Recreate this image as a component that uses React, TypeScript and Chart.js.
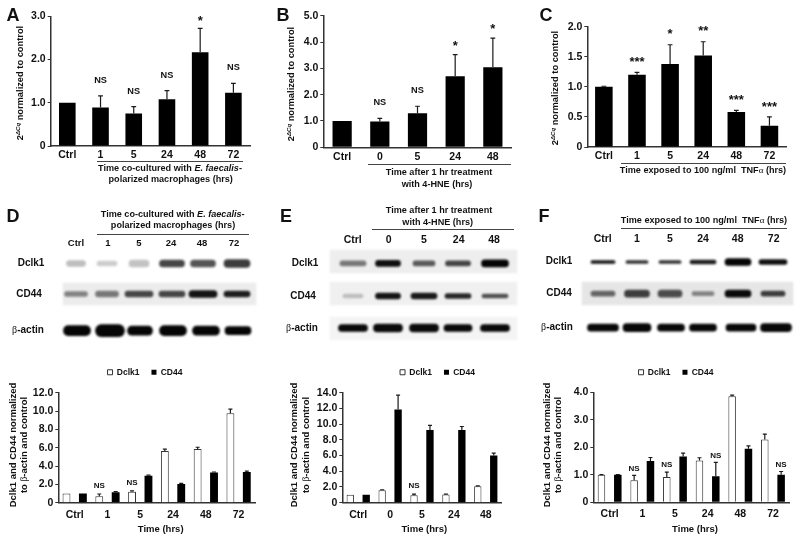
import React, { useEffect, useRef } from "react";
import { Chart, registerables } from "chart.js";

Chart.register(...registerables);

const FONT = "'Liberation Sans', Arial, sans-serif";
const INK = "#111";

// ---- qPCR panels ----
const catsA = ["Ctrl", "1", "5", "24", "48", "72"];
const valsA = [1.0, 0.89, 0.75, 1.08, 2.17, 1.23];
const errsA = [0, 0.27, 0.16, 0.2, 0.55, 0.22];
const sigA = ["", "NS", "NS", "NS", "*", "NS"];

const catsB = ["Ctrl", "0", "5", "24", "48"];
const valsB = [1.0, 0.98, 1.29, 2.7, 3.04];
const errsB = [0, 0.12, 0.27, 0.82, 1.11];
const sigB = ["", "NS", "NS", "*", "*"];

const catsC = ["Ctrl", "1", "5", "24", "48", "72"];
const valsC = [1.0, 1.2, 1.38, 1.52, 0.58, 0.355];
const errsC = [0.01, 0.04, 0.32, 0.23, 0.03, 0.145];
const sigC = ["", "***", "*", "**", "***", "***"];

// ---- densitometry panels ----
const catsD = ["Ctrl", "1", "5", "24", "48", "72"];
const dclkD = [1.0, 0.7, 1.2, 5.65, 5.85, 9.75];
const dclkErrD = [0, 0.25, 0.1, 0.2, 0.2, 0.45];
const cdD = [1.0, 1.15, 2.95, 2.05, 3.3, 3.35];
const cdErrD = [0, 0.05, 0.05, 0.05, 0.05, 0.1];
const sigDclkD = ["", "NS", "NS", "", "", ""];
const sigCdD = ["", "", "", "", "", ""];

const catsE = ["Ctrl", "0", "5", "24", "48"];
const dclkE = [1.0, 1.6, 0.95, 1.05, 2.1];
const dclkErrE = [0, 0.05, 0.15, 0.05, 0.05];
const cdE = [1.0, 11.85, 9.25, 9.25, 6.0];
const cdErrE = [0, 1.85, 0.6, 0.45, 0.3];
const sigDclkE = ["", "", "NS", "", ""];
const sigCdE = ["", "", "", "", ""];

const catsF = ["Ctrl", "1", "5", "24", "48", "72"];
const dclkF = [1.0, 0.8, 0.92, 1.52, 3.86, 2.28];
const dclkErrF = [0.01, 0.18, 0.18, 0.1, 0.04, 0.2];
const cdF = [1.0, 1.5, 1.67, 0.95, 1.95, 1.0];
const cdErrF = [0.01, 0.13, 0.12, 0.5, 0.1, 0.12];
const sigDclkF = ["", "NS", "NS", "", "", ""];
const sigCdF = ["", "", "", "NS", "", "NS"];

// ---- blots: lane centres, band lengths, thicknesses, grey levels ----
const lanesD = [76, 107, 139, 172, 203, 237];
const dclkBandD = { lanes: lanesD, y: 263.5, w: [19, 20, 20, 25, 25, 26], h: [6, 5, 7, 7, 7, 8], g: [190, 205, 195, 70, 85, 60] };
const cdBandD = { lanes: lanesD, y: 294, w: [23, 23, 28, 26, 28, 26], h: [5, 6, 6, 6, 7, 6], g: [130, 120, 70, 70, 20, 30] };
const actinBandD = { lanes: [77, 110, 140, 173, 206, 238], y: 330.7, w: [27, 29, 25, 27, 27, 26], h: [10, 12, 9, 10, 9, 8], g: [5, 5, 5, 5, 5, 5] };
const shadesD = [{ x: [63, 256], y: 294, h: 22, g: 236 }];

const lanesE = [353, 388, 424, 458, 495];
const dclkBandE = { lanes: lanesE, y: 263.3, w: [26, 25, 22, 25, 27], h: [5, 6, 5, 5, 7], g: [120, 15, 90, 70, 5] };
const cdBandE = { lanes: lanesE, y: 296, w: [20, 25, 26, 26, 26], h: [4, 6, 6, 5, 4], g: [190, 20, 25, 40, 80] };
const actinBandE = { lanes: lanesE, y: 328, w: [29, 29, 29, 28, 29], h: [7, 8, 8, 7, 7], g: [10, 10, 10, 10, 10] };
const shadesE = [
  { x: [330, 517], y: 261.5, h: 23, g: 238 },
  { x: [330, 517], y: 293.5, h: 23, g: 240 },
  { x: [330, 517], y: 328.5, h: 23, g: 244 },
];

const lanesF = [603, 637, 670, 703, 738, 773];
const dclkBandF = { lanes: lanesF, y: 262, w: [24, 22, 22, 26, 26, 28], h: [3, 3, 3, 4, 7, 5], g: [20, 50, 50, 30, 5, 15] };
const cdBandF = { lanes: lanesF, y: 293.7, w: [24, 25, 24, 22, 26, 24], h: [5, 7, 7, 4, 7, 5], g: [100, 60, 75, 130, 10, 60] };
const actinBandF = { lanes: [603, 637, 671, 703, 741, 776], y: 327.7, w: [31, 28, 27, 27, 30, 31], h: [7, 8, 7, 7, 7, 8], g: [8, 8, 8, 8, 8, 8] };
const shadesF = [{ x: [582, 793], y: 293.5, h: 23, g: 230 }];

const errorBars = {
  id: "errorBars",
  afterDatasetsDraw(chart: any) {
    const { ctx } = chart;
    const cfg = chart.options.plugins.errorBars;
    const y = chart.scales.y;
    chart.data.datasets.forEach((ds: any, di: number) => {
      const meta = chart.getDatasetMeta(di);
      meta.data.forEach((bar: any, i: number) => {
        const top = y.getPixelForValue(ds.data[i] + ds.errs[i]);
        const base = y.getPixelForValue(ds.data[i]);
        ctx.save();
        if (ds.errs[i] > 0) {
          ctx.strokeStyle = "#1a1a1a";
          ctx.lineWidth = 1.2;
          ctx.beginPath();
          ctx.moveTo(bar.x, base);
          ctx.lineTo(bar.x, top);
          ctx.moveTo(bar.x - cfg.cap, top);
          ctx.lineTo(bar.x + cfg.cap, top);
          ctx.stroke();
        }
        const label = ds.sig[i];
        if (label) {
          const star = label[0] === "*";
          ctx.fillStyle = INK;
          ctx.textAlign = "center";
          ctx.textBaseline = "middle";
          ctx.font = `bold ${star ? cfg.starSize : cfg.nsSize}px ${FONT}`;
          ctx.fillText(label, bar.x, top - (star ? cfg.starGap : cfg.nsGap));
        }
        ctx.restore();
      });
    });
  },
};

const legendSpacer = {
  id: "legendSpacer",
  beforeInit(chart: any) {
    const target = chart.options.plugins.legendSpacer?.height;
    if (!target || !chart.legend) return;
    const fit = chart.legend.fit;
    chart.legend.fit = function () {
      fit.call(this);
      this.height = target;
    };
  },
  afterLayout(chart: any) {
    const center = chart.options.plugins.legendSpacer?.center;
    if (!center || !chart.legend) return;
    const dx = center - (chart.legend.left + chart.legend.right) / 2;
    chart.legend.left += dx;
    chart.legend.right += dx;
  },
};

type PlotProps = {
  left: number; top: number; width: number; height: number;
  axisLeft: number; axisRight: number; plotTop: number; plotBottom: number;
  cats: string[]; series: any[]; max: number; step: number; pct: number;
  tickPad: number; legendCenter?: number; ns: number; nsGap: number; starGap: number;
};

function Plot(p: PlotProps) {
  const ref = useRef<HTMLCanvasElement>(null);
  const legend = !!p.legendCenter;
  useEffect(() => {
    const chart = new Chart(ref.current as any, {
      type: "bar",
      data: {
        labels: p.cats,
        datasets: p.series.map((s) => ({
          label: s.label,
          data: s.data,
          errs: s.errs,
          sig: s.sig,
          backgroundColor: s.fill,
          borderColor: s.stroke,
          borderWidth: s.fill === "#000" ? 0 : 1,
          categoryPercentage: 1,
          barPercentage: p.pct,
        })) as any,
      },
      options: {
        animation: false,
        responsive: false,
        layout: {
          padding: {
            top: legend ? 0 : p.plotTop - p.top,
            right: p.left + p.width - p.axisRight,
            left: 0,
            bottom: 0,
          },
        },
        scales: {
          x: {
            afterFit: (s: any) => { s.height = p.top + p.height - p.plotBottom; },
            grid: { display: false, drawTicks: false, tickLength: 0 },
            border: { display: true, color: "#333", width: 1.5 },
            ticks: {
              padding: p.tickPad, maxRotation: 0, autoSkip: false, color: INK,
              font: { family: FONT, size: 10.5, weight: "bold" },
            },
          },
          y: {
            min: 0, max: p.max,
            afterFit: (s: any) => { s.width = p.axisLeft - p.left; },
            grid: { drawOnChartArea: false, drawTicks: true, tickLength: 3, color: "#333" },
            border: { display: true, color: "#333", width: 1.5 },
            ticks: {
              stepSize: p.step, padding: 2, color: INK, autoSkip: false,
              font: { family: FONT, size: 10.5, weight: "bold" },
              callback: (v: any) => Number(v) === 0 ? "0" : Number(v).toFixed(1),
            },
          },
        },
        plugins: {
          tooltip: { enabled: false },
          legend: legend
            ? {
                display: true, position: "top",
                labels: {
                  boxWidth: 5, boxHeight: 5, padding: 12, color: INK,
                  font: { family: FONT, size: 8.5, weight: "bold" },
                },
              }
            : { display: false },
          legendSpacer: { height: legend ? p.plotTop - p.top : 0, center: legend ? (p.legendCenter as number) - p.left : 0 },
          errorBars: { cap: legend ? 2 : 2.4, nsSize: p.ns, starSize: 13, nsGap: p.nsGap, starGap: p.starGap },
        } as any,
      },
      plugins: [errorBars, legendSpacer],
    } as any);
    return () => chart.destroy();
  }, []);
  return (
    <canvas ref={ref} width={p.width} height={p.height}
      style={{ position: "absolute", left: p.left, top: p.top, width: p.width, height: p.height }} />
  );
}

function Blot({ left, width, rows, shades }: any) {
  const ref = useRef<HTMLCanvasElement>(null);
  const top = 195, height = 155;
  useEffect(() => {
    const grey = (g: number) => `rgb(${g},${g},${g})`;
    const datasets: any[] = [];
    shades.forEach((s: any) => datasets.push({
      data: [{ x: s.x, y: s.y }], barThickness: s.h, grouped: false, order: 2,
      backgroundColor: grey(s.g), borderSkipped: false,
    }));
    rows.forEach((r: any) => r.lanes.forEach((c: number, i: number) => datasets.push({
      data: [{ x: [c - r.w[i] / 2, c + r.w[i] / 2], y: r.y }],
      barThickness: r.h[i], grouped: false, order: 1,
      backgroundColor: grey(r.g[i]), borderSkipped: false, borderRadius: r.h[i] / 2,
    })));
    const chart = new Chart(ref.current as any, {
      type: "bar",
      data: { labels: [], datasets },
      options: {
        indexAxis: "y", animation: false, responsive: false,
        layout: { padding: 0 },
        scales: {
          x: { type: "linear", display: false, min: left, max: left + width },
          y: { type: "linear", display: false, reverse: true, min: top, max: top + height, offset: false },
        },
        plugins: { legend: { display: false }, tooltip: { enabled: false } },
      },
    } as any);
    return () => chart.destroy();
  }, []);
  return (
    <canvas ref={ref} width={width} height={height}
      style={{ position: "absolute", left, top, width, height, filter: "blur(1px)" }} />
  );
}

function T({ x, y, size = 10, rot = false, children }: any) {
  return (
    <div style={{
      position: "absolute", left: x, top: y, whiteSpace: "pre", color: INK,
      fontFamily: FONT, fontWeight: 700, fontSize: size, lineHeight: 1,
      transform: `translate(-50%,-50%)${rot ? " rotate(-90deg)" : ""}`,
    }}>{children}</div>
  );
}

function Rule({ x0, x1, y }: any) {
  return <div style={{ position: "absolute", left: x0, top: y, width: x1 - x0, height: 1, background: "#444" }} />;
}

const Greek = ({ children }: any) => (
  <span style={{ fontFamily: "'Liberation Serif', serif", fontWeight: 400 }}>{children}</span>
);

const QTitle = () => (
  <>2<sup style={{ fontSize: 6, fontStyle: "italic", verticalAlign: 3, lineHeight: 0 }}>ΔCq</sup> normalized to control</>
);

const LETTERS: [string, number, number][] = [["A", 13, 15], ["B", 283, 15], ["C", 546, 15], ["D", 13, 216], ["E", 286, 216], ["F", 544, 216]];

const laneText = (labels: string[], xs: number[], y: number, size: number) =>
  labels.map((l, i) => <T key={l + y} x={xs[i]} y={y} size={size}>{l}</T>);

export default function App() {
  return (
    <div style={{ position: "absolute", left: 0, top: 0, width: 800, height: 541, overflow: "hidden", background: "#fff", filter: "blur(0.35px)" }}>
      <Plot left={0} top={0} width={270} height={190} axisLeft={50.7} axisRight={250} plotTop={16.3} plotBottom={146}
        cats={catsA} max={3} step={1} pct={0.5} tickPad={3} ns={9.2} nsGap={15.5} starGap={7}
        series={[{ label: "A", data: valsA, errs: errsA, sig: sigA, fill: "#000", stroke: "#000" }]} />
      <Plot left={265} top={0} width={270} height={190} axisLeft={323.3} axisRight={511.7} plotTop={15.7} plotBottom={147.3}
        cats={catsB} max={5} step={1} pct={0.51} tickPad={4} ns={9.2} nsGap={15.5} starGap={8.5}
        series={[{ label: "B", data: valsB, errs: errsB, sig: sigB, fill: "#000", stroke: "#000" }]} />
      <Plot left={530} top={0} width={270} height={190} axisLeft={587.3} axisRight={786} plotTop={26.7} plotBottom={147}
        cats={catsC} max={2} step={0.5} pct={0.53} tickPad={3} ns={9.2} nsGap={15.5} starGap={10}
        series={[{ label: "C", data: valsC, errs: errsC, sig: sigC, fill: "#000", stroke: "#000" }]} />

      <Plot left={10} top={356} width={270} height={185} axisLeft={58.3} axisRight={255} plotTop={392.7} plotBottom={502.7}
        cats={catsD} max={12} step={2} pct={0.48} tickPad={6} legendCenter={145} ns={8} nsGap={8} starGap={8}
        series={[
          { label: "Dclk1", data: dclkD, errs: dclkErrD, sig: sigDclkD, fill: "#fff", stroke: "#333" },
          { label: "CD44", data: cdD, errs: cdErrD, sig: sigCdD, fill: "#000", stroke: "#000" },
        ]} />
      <Plot left={305} top={356} width={265} height={185} axisLeft={342.3} axisRight={501.7} plotTop={392.7} plotBottom={502.7}
        cats={catsE} max={14} step={2} pct={0.46} tickPad={6} legendCenter={437.5} ns={8} nsGap={8} starGap={8}
        series={[
          { label: "Dclk1", data: dclkE, errs: dclkErrE, sig: sigDclkE, fill: "#fff", stroke: "#333" },
          { label: "CD44", data: cdE, errs: cdErrE, sig: sigCdE, fill: "#000", stroke: "#000" },
        ]} />
      <Plot left={552} top={356} width={248} height={185} axisLeft={593.3} axisRight={789.3} plotTop={392.3} plotBottom={502.3}
        cats={catsF} max={4} step={1} pct={0.46} tickPad={6} legendCenter={676} ns={8} nsGap={7} starGap={8}
        series={[
          { label: "Dclk1", data: dclkF, errs: dclkErrF, sig: sigDclkF, fill: "#fff", stroke: "#333" },
          { label: "CD44", data: cdF, errs: cdErrF, sig: sigCdF, fill: "#000", stroke: "#000" },
        ]} />

      <Blot left={0} width={270} rows={[dclkBandD, cdBandD, actinBandD]} shades={shadesD} />
      <Blot left={265} width={270} rows={[dclkBandE, cdBandE, actinBandE]} shades={shadesE} />
      <Blot left={530} width={270} rows={[dclkBandF, cdBandF, actinBandF]} shades={shadesF} />

      {LETTERS.map(([l, x, y]) => <T key={l} x={x} y={y} size={18}>{l}</T>)}

      <T x={20.7} y={83} size={9.3} rot><QTitle /></T>
      <T x={291.7} y={84} size={9.3} rot><QTitle /></T>
      <T x={555.7} y={88} size={9.3} rot><QTitle /></T>

      <Rule x0={96.7} x1={243} y={161} />
      <T x={170} y={169} size={9.1}>Time co-cultured with <i>E. faecalis</i>-</T>
      <T x={170.7} y={180} size={9.1}>polarized macrophages (hrs)</T>
      <Rule x0={367.7} x1={511} y={164} />
      <T x={439} y={173} size={9.1}>Time after 1 hr treatment</T>
      <T x={437} y={185} size={9.1}>with 4-HNE (hrs)</T>
      <Rule x0={620.7} x1={786} y={163} />
      <T x={703} y={171} size={9.1}>Time exposed to 100 ng/ml  TNF<Greek>α</Greek> (hrs)</T>

      <T x={172.7} y={215} size={9.1}>Time co-cultured with <i>E. faecalis</i>-</T>
      <T x={173} y={226} size={9.1}>polarized macrophages (hrs)</T>
      <Rule x0={97.3} x1={249} y={234} />
      {laneText(catsD, [76, 108, 139, 171, 202, 234], 243, 9.5)}
      <T x={31} y={263} size={10}>Dclk1</T>
      <T x={29} y={294} size={10}>CD44</T>
      <T x={28} y={330} size={10}><Greek>β</Greek>-actin</T>

      <T x={439} y={210.7} size={9.1}>Time after 1 hr treatment</T>
      <T x={437.7} y={223} size={9.1}>with 4-HNE (hrs)</T>
      <Rule x0={371.7} x1={514} y={229} />
      {laneText(catsE, [352.7, 388.7, 424, 458.7, 494], 238.7, 10.5)}
      <T x={305} y={263} size={10}>Dclk1</T>
      <T x={303} y={296} size={10}>CD44</T>
      <T x={302} y={328} size={10}><Greek>β</Greek>-actin</T>

      <T x={704} y={220.7} size={9.1}>Time exposed to 100 ng/ml  TNF<Greek>α</Greek> (hrs)</T>
      <Rule x0={620.7} x1={787} y={228} />
      {laneText(catsF, [602.7, 637, 670, 703, 737.7, 773.7], 238, 10.5)}
      <T x={559} y={261} size={10}>Dclk1</T>
      <T x={559} y={293} size={10}>CD44</T>
      <T x={557} y={327} size={10}><Greek>β</Greek>-actin</T>

      {[[13.3, 24, 160.7], [294, 305.7, 424.3], [546.7, 558.3, 695]].map(([a, b, c]) => (
        <React.Fragment key={a}>
          <T x={a} y={445} size={9.5} rot>Dclk1 and CD44 normalized</T>
          <T x={b} y={445} size={9.5} rot>to <Greek>β</Greek>-actin and control</T>
          <T x={c} y={529} size={9.5}>Time (hrs)</T>
        </React.Fragment>
      ))}
    </div>
  );
}
